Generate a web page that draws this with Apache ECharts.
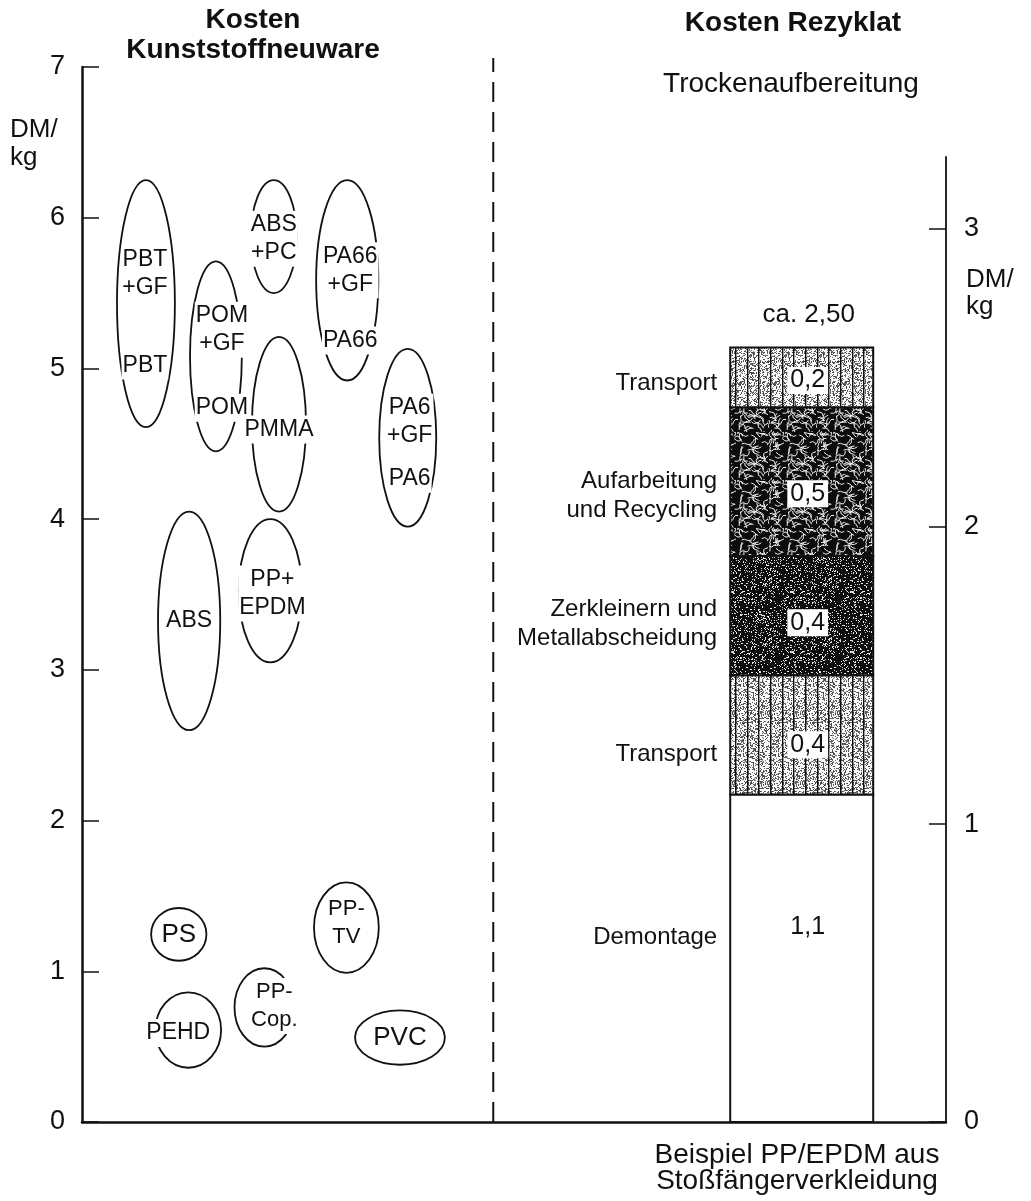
<!DOCTYPE html>
<html>
<head>
<meta charset="utf-8">
<script src="https://cdn.jsdelivr.net/npm/echarts@6/dist/echarts.min.js"></script>
<style>
  html, body { margin: 0; padding: 0; background: #fff; }
  #chart { width: 1031px; height: 1201px; }
</style>
</head>
<body>
<div id="chart"></div>
<script>
const FONT = "'Liberation Sans', Arial, Helvetica, sans-serif";
const INK = '#111';

// ---- Virgin plastics: price range per material (DM/kg) ----
const materials = ['PBT', 'ABS+PC', 'PA66', 'POM', 'PMMA', 'PA6', 'ABS', 'PP+EPDM', 'PS', 'PP-TV', 'PEHD', 'PP-Cop.', 'PVC'];
const costLow  = [4.61, 5.50, 4.92, 4.45, 4.05, 3.95, 2.60, 3.05, 1.07, 0.99, 0.36, 0.50, 0.38];
const costHigh = [6.25, 6.25, 6.25, 5.71, 5.21, 5.13, 4.05, 4.00, 1.42, 1.59, 0.86, 1.02, 0.74];
// texts written into each ellipse (glass-fibre grade first, base grade second)
const ellipseTexts = [
  ['PBT\n+GF', 'PBT'], ['ABS\n+PC'], ['PA66\n+GF', 'PA66'], ['POM\n+GF', 'POM'], ['PMMA'],
  ['PA6\n+GF', 'PA6'], ['ABS'], ['PP+\nEPDM'], ['PS'], ['PP-\nTV'], ['PEHD'], ['PP-\nCop.'], ['PVC']
];

// ---- Recyclate: cost build-up (DM/kg), bottom to top ----
const stepNames = ['Demontage', 'Transport', 'Zerkleinern und\nMetallabscheidung', 'Aufarbeitung\nund Recycling', 'Transport'];
const stepCosts = [1.1, 0.4, 0.4, 0.5, 0.2];
const totalText = 'ca. 2,50';

// ---- Axis ticks ----
const leftTicks = [0, 1, 2, 3, 4, 5, 6, 7];
const rightTicks = [0, 1, 2, 3];

// ---- Layout (x axis runs 0..100 across the plot) ----
const ellipseX = [7.4, 22.2, 30.7, 15.5, 22.8, 37.7, 12.4, 21.8, 11.2, 30.6, 12.3, 21.1, 36.8];
const ellipseW = [6.7, 5.3, 7.2, 6.0, 6.25, 6.6, 7.2, 7.3, 6.4, 7.5, 7.6, 6.9, 10.4];
const textPos  = [[0.62, 0.25], [0.48], [0.55, 0.20], [0.64, 0.23], [0.47], [0.59, 0.27], [0.50], [0.48], [0.5], [0.55], [0.46], [0.52], [0.5]];
const textDx   = [-1, 0, 3, 6, 0, 2, 0, 2, 0, 0, -10, 10, 0];
const textSize = [23, 23, 23, 23, 23, 23, 23, 23, 26, 22, 23, 22, 26];
const dividerX = 47.6;
const barX = 83.3;
const barW = 16.55;
const nameShift  = [-21, 20, 8, 14, 6];     // vertical nudge of the step names (px)
const valueShift = [-31, 10, 7, 12, 3];     // vertical nudge of the value boxes (px)

// ---- Fill textures ----
function rng(seed) {
  let s = seed >>> 0;
  return () => (s = (Math.imul(s, 1664525) + 1013904223) >>> 0) / 4294967296;
}
function canvasOf(w, h) {
  const c = document.createElement('canvas');
  c.width = w; c.height = h;
  return c;
}
// light stipple with vertical rules
function transportTexture(seed) {
  const w = 35, h = 70, c = canvasOf(w, h), g = c.getContext('2d'), r = rng(seed);
  const img = g.createImageData(w, h);
  for (let p = 0; p < w * h; p++) {
    const v = r() < 0.36 ? 60 + Math.floor(r() * 60) : 250;
    img.data[p * 4] = v; img.data[p * 4 + 1] = v; img.data[p * 4 + 2] = v; img.data[p * 4 + 3] = 255;
  }
  g.putImageData(img, 0, 0);
  g.fillStyle = INK;
  for (let k = 0; k < 3; k++) g.fillRect(Math.round(k * 11.67), 0, 1.4, h);
  return c;
}
// dark fill with white crackle marks
function crackleTexture(seed) {
  const w = 48, h = 48, c = canvasOf(w, h), g = c.getContext('2d'), r = rng(seed);
  g.fillStyle = '#0c0c0c'; g.fillRect(0, 0, w, h);
  g.strokeStyle = '#f0f0f0'; g.lineWidth = 1; g.lineCap = 'round';
  for (let k = 0; k < 95; k++) {
    let x = r() * w, y = r() * h, a = r() * Math.PI * 2;
    g.beginPath(); g.moveTo(x, y);
    for (let s = 0; s < 3; s++) {
      a += (r() - 0.5) * 2.2;
      x += Math.cos(a) * 2.6; y += Math.sin(a) * 2.6;
      g.lineTo(x, y);
    }
    g.stroke();
  }
  return c;
}
// dark fill with fine white speckle
function speckleTexture(seed) {
  const w = 60, h = 60, c = canvasOf(w, h), g = c.getContext('2d'), r = rng(seed);
  const img = g.createImageData(w, h);
  for (let p = 0; p < w * h; p++) {
    const v = r() < 0.17 ? 200 + Math.floor(r() * 55) : 14;
    img.data[p * 4] = v; img.data[p * 4 + 1] = v; img.data[p * 4 + 2] = v; img.data[p * 4 + 3] = 255;
  }
  g.putImageData(img, 0, 0);
  return c;
}
const stepFills = ['#ffffff', transportTexture(7), speckleTexture(11), crackleTexture(23), transportTexture(31)]
  .map(f => typeof f === 'string' ? f : { image: f, repeat: 'repeat' });

const fmtDM = v => v.toFixed(1).replace('.', ',');

// ---- Ellipses drawn from the price ranges ----
function renderEllipse(params, api) {
  const i = params.dataIndex;
  const x = api.value(0), lo = api.value(1), hi = api.value(2), w = api.value(3);
  const top = api.coord([x, hi]);
  const bot = api.coord([x, lo]);
  const rx = api.size([w, 0])[0] / 2;
  const ry = (bot[1] - top[1]) / 2;
  const children = [{
    type: 'ellipse',
    shape: { cx: top[0], cy: top[1] + ry, rx: rx, ry: ry },
    style: { fill: 'none', stroke: INK, lineWidth: 1.8 }
  }];
  ellipseTexts[i].forEach((t, k) => {
    children.push({
      type: 'text',
      x: top[0] + textDx[i],
      y: bot[1] - textPos[i][k] * (bot[1] - top[1]),
      style: {
        text: t, fill: INK, font: textSize[i] + 'px ' + FONT,
        align: 'center', verticalAlign: 'middle', lineHeight: 28,
        backgroundColor: '#fff', padding: [0, 1]
      }
    });
  });
  return { type: 'group', children: children };
}

// ---- Stacked cost steps ----
const stepStart = [], stepEnd = [], stepMid = [];
let acc = 0;
stepCosts.forEach(v => { stepStart.push(acc); stepMid.push(acc + v / 2); acc += v; stepEnd.push(acc); });
const stepTotal = acc;

function renderStep(params, api) {
  const k = params.dataIndex;
  const x = api.value(0), y0 = api.value(1), y1 = api.value(2), val = api.value(3);
  const w = api.size([barW, 0])[0];
  const pBot = api.coord([x, y0]), pTop = api.coord([x, y1]);
  return {
    type: 'group',
    children: [
      { type: 'rect',
        shape: { x: pBot[0] - w / 2, y: pTop[1], width: w, height: pBot[1] - pTop[1] },
        style: { fill: stepFills[k], stroke: INK, lineWidth: 2 } },
      { type: 'text', x: pBot[0] + 6, y: (pTop[1] + pBot[1]) / 2 + valueShift[k],
        style: { text: fmtDM(val), fill: INK, font: '25px ' + FONT, align: 'center', verticalAlign: 'middle',
          backgroundColor: k === 0 ? null : '#fff', padding: [1, 3] } }
    ]
  };
}

const axisText = { color: INK, fontFamily: FONT, fontSize: 27 };

const option = {
  animation: false,
  backgroundColor: '#fff',
  grid: [
    { left: 82, right: 85, top: 67, bottom: 79 },
    { left: 82, right: 85, top: 157, bottom: 79 }
  ],
  xAxis: [
    { gridIndex: 0, type: 'value', min: 0, max: 100,
      axisLine: { show: true, onZero: false, lineStyle: { color: INK, width: 2.5 } },
      axisTick: { show: false }, axisLabel: { show: false }, splitLine: { show: false } },
    { gridIndex: 1, type: 'value', min: 0, max: 100, show: false }
  ],
  yAxis: [
    { gridIndex: 0, type: 'value', min: 0, max: 7, interval: 1, position: 'left',
      axisLine: { show: true, onZero: false, lineStyle: { color: INK, width: 2.5 } },
      axisTick: { show: true, inside: true, length: 17, lineStyle: { color: INK, width: 1.5 }, customValues: leftTicks },
      axisLabel: Object.assign({ margin: 17, customValues: leftTicks }, axisText),
      splitLine: { show: false } },
    { gridIndex: 1, type: 'value', min: 0, max: 3.24, interval: 1, position: 'right',
      axisLine: { show: true, onZero: false, lineStyle: { color: INK, width: 1.8 } },
      axisTick: { show: true, inside: true, length: 17, lineStyle: { color: INK, width: 1.5 }, customValues: rightTicks },
      axisLabel: Object.assign({ margin: 18, customValues: rightTicks }, axisText),
      splitLine: { show: false } }
  ],
  graphic: [
    { type: 'text', x: 253, y: 35, style: { text: 'Kosten\nKunststoffneuware', font: 'bold 28px ' + FONT, fill: INK, align: 'center', verticalAlign: 'middle', lineHeight: 30 } },
    { type: 'text', x: 793, y: 23, style: { text: 'Kosten Rezyklat', font: 'bold 28px ' + FONT, fill: INK, align: 'center', verticalAlign: 'middle' } },
    { type: 'text', x: 791, y: 84, style: { text: 'Trockenaufbereitung', font: '28px ' + FONT, fill: INK, align: 'center', verticalAlign: 'middle' } },
    { type: 'text', x: 10, y: 144, style: { text: 'DM/\nkg', font: '26px ' + FONT, fill: INK, align: 'left', verticalAlign: 'middle', lineHeight: 28 } },
    { type: 'text', x: 966, y: 293, style: { text: 'DM/\nkg', font: '26px ' + FONT, fill: INK, align: 'left', verticalAlign: 'middle', lineHeight: 27 } },
    { type: 'text', x: 797, y: 1168, style: { text: 'Beispiel PP/EPDM aus\nStoßfängerverkleidung', font: '28px ' + FONT, fill: INK, align: 'center', verticalAlign: 'middle', lineHeight: 26 } }
  ],
  series: [
    // divider between the two panels
    { type: 'line', xAxisIndex: 0, yAxisIndex: 0, clip: false, silent: true, symbol: 'none',
      data: [[dividerX, 0], [dividerX, 7.06]],
      lineStyle: { color: INK, width: 2, type: [20, 10] } },
    // price ranges of virgin plastics
    { type: 'custom', xAxisIndex: 0, yAxisIndex: 0, clip: false, silent: true,
      renderItem: renderEllipse,
      encode: { x: 0, y: [1, 2] },
      data: materials.map((m, i) => ({ name: m, value: [ellipseX[i], costLow[i], costHigh[i], ellipseW[i]] })) },
    // recyclate cost steps, stacked
    { type: 'custom', xAxisIndex: 1, yAxisIndex: 1, clip: false, silent: true,
      renderItem: renderStep,
      encode: { x: 0, y: [1, 2] },
      data: stepCosts.map((v, k) => ({ name: stepNames[k], value: [barX, stepStart[k], stepEnd[k], v] })) },
    // step names beside the bar
    { type: 'scatter', xAxisIndex: 1, yAxisIndex: 1, symbolSize: 0, silent: true,
      itemStyle: { opacity: 1 },
      data: stepNames.map((n, k) => ({
        name: n, value: [barX - barW / 2, stepMid[k]],
        label: { offset: [0, nameShift[k]] }
      })),
      label: {
        show: true, position: 'left', distance: 13,
        formatter: p => p.name.split('\n').map(s => '{a|' + s + '}').join('\n'),
        rich: { a: { color: INK, fontFamily: FONT, fontSize: 24, lineHeight: 29 } }
      } },
    // total above the bar
    { type: 'scatter', xAxisIndex: 1, yAxisIndex: 1, symbolSize: 0, silent: true,
      itemStyle: { opacity: 1 },
      data: [[barX, stepTotal]],
      label: { show: true, position: 'top', distance: 20, offset: [7, 0], formatter: totalText,
        color: INK, fontFamily: FONT, fontSize: 26 } }
  ]
};

const chart = echarts.init(document.getElementById('chart'), null, { renderer: 'canvas' });
chart.setOption(option);
</script>
</body>
</html>
